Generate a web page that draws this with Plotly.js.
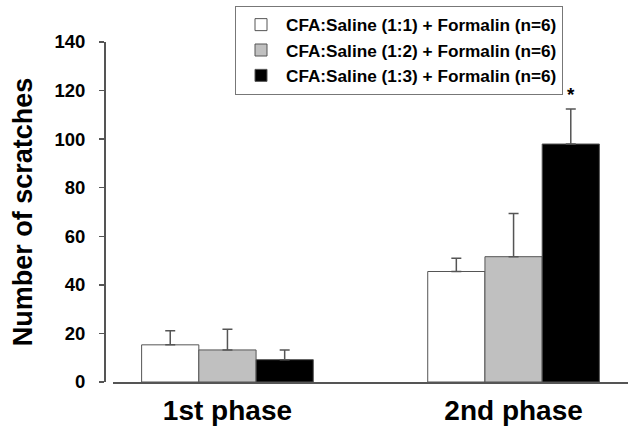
<!DOCTYPE html>
<html>
<head>
<meta charset="utf-8">
<script src="https://cdn.plot.ly/plotly-3.0.1.min.js"></script>
<style>html,body{margin:0;padding:0;background:#fff;}#chart{width:631px;height:429px;}</style>
</head>
<body>
<div id="chart"></div>
<script>
const phases = ["1st phase", "2nd phase"];
const seriesNames = ["CFA:Saline (1:1) + Formalin (n=6)", "CFA:Saline (1:2) + Formalin (n=6)", "CFA:Saline (1:3) + Formalin (n=6)"];
const ratio11 = [15.3, 45.5];
const ratio11Err = [5.8, 5.5];
const ratio12 = [13.2, 51.6];
const ratio12Err = [8.5, 17.8];
const ratio13 = [9.2, 98.0];
const ratio13Err = [4.0, 14.4];
const fills = ["#ffffff", "#c0c0c0", "#000000"];
const sigLabel = "*";

const FONT = 'Arial, "Liberation Sans", sans-serif';
const values = [ratio11, ratio12, ratio13];
const errs = [ratio11Err, ratio12Err, ratio13Err];

const traces = values.map((v, i) => ({
  type: "bar",
  name: seriesNames[i],
  x: phases,
  y: v,
  marker: {color: fills[i], line: {color: "#555555", width: 1}},
  error_y: {type: "data", array: errs[i], arrayminus: v.map(() => 0), symmetric: false,
            color: "#555555", thickness: 1.5, width: 5}
}));

const layout = {
  width: 631, height: 429,
  margin: {l: 104, r: 3, t: 42, b: 47},
  paper_bgcolor: "#ffffff", plot_bgcolor: "#ffffff",
  font: {family: FONT, color: "#000"},
  barmode: "group", bargap: 0.4, bargroupgap: 0,
  showlegend: true,
  legend: {x: 0.25, y: 1.106, xanchor: "left", yanchor: "top",
           bordercolor: "#777777", borderwidth: 1, bgcolor: "#ffffff",
           font: {family: FONT, size: 17.2, color: "#000", weight: "bold"},
           itemwidth: 40, tracegroupgap: 0},
  xaxis: {domain: [0.0172, 1], range: [-0.4, 1.4], type: "category",
          showline: true, linecolor: "#555555", linewidth: 1.5, ticks: "",
          showgrid: false, zeroline: false, ticklabelstandoff: 3,
          tickfont: {family: FONT, size: 28, weight: "bold", color: "#000"}},
  yaxis: {anchor: "free", position: 0, range: [0, 140], dtick: 20, tick0: 0,
          showline: true, linecolor: "#555555", linewidth: 1.5,
          ticks: "outside", ticklen: 5, tickcolor: "#555555", tickwidth: 1.5,
          showgrid: false, zeroline: false, ticklabelstandoff: 10,
          tickfont: {family: FONT, size: 18.5, weight: "bold", color: "#000"},
          title: {text: "Number of scratches", font: {family: FONT, size: 27, weight: "bold", color: "#000"}, standoff: 12}},
  annotations: [{
    xref: "x", yref: "y", x: 1.2, y: ratio13[1] + ratio13Err[1],
    text: sigLabel, showarrow: false, yanchor: "bottom", yshift: 2,
    font: {family: FONT, size: 19, weight: "bold", color: "#000"}
  }]
};

Plotly.newPlot("chart", traces, layout, {displayModeBar: false, staticPlot: true});
</script>
</body>
</html>
